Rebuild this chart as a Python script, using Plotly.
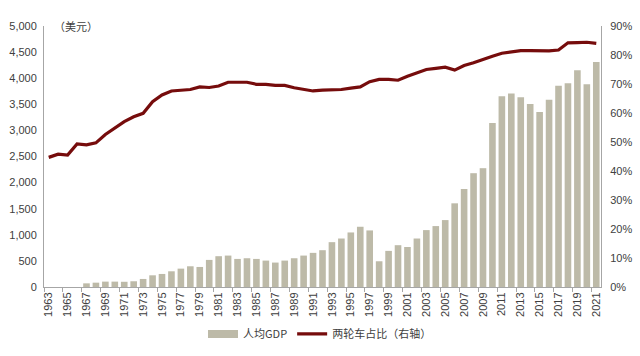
import plotly.graph_objects as go

years = list(range(1963, 2022))
gdp = [0, 0, 0, 0, 70, 83, 103, 103, 100, 110, 154, 224, 250, 301, 352, 397, 384, 519, 590,
       602, 538, 551, 538, 506, 468, 506, 551, 602, 654, 705, 859, 929, 1045, 1154, 1084, 493,
       692, 801, 766, 929, 1090, 1167, 1282, 1603, 1878, 2180, 2276, 3141, 3654, 3705, 3635,
       3508, 3354, 3585, 3854, 3904, 4154, 3885, 4308]
share = [44.7, 45.8, 45.5, 49.3, 49.0, 49.7, 52.6, 54.7, 57.0, 58.7, 59.9, 63.9, 66.2, 67.6,
         67.9, 68.1, 69.0, 68.8, 69.3, 70.6, 70.6, 70.6, 69.9, 69.9, 69.5, 69.5, 68.7, 68.1,
         67.6, 67.9, 68.1, 68.1, 68.6, 69.0, 70.8, 71.6, 71.6, 71.3, 72.7, 73.9, 75.0, 75.4,
         75.8, 74.8, 76.4, 77.3, 78.5, 79.6, 80.6, 81.1, 81.5, 81.5, 81.5, 81.4, 81.7, 84.2,
         84.3, 84.4, 84.0]
left_ticks = [0, 500, 1000, 1500, 2000, 2500, 3000, 3500, 4000, 4500, 5000]
right_ticks = [0, 10, 20, 30, 40, 50, 60, 70, 80, 90]
label_years = years[::2]

font_main = "Liberation Sans, Arial, Noto Sans CJK SC, sans-serif"
font_cjk = "Noto Sans CJK SC, Liberation Sans, sans-serif"
txt = "#404040"
bar_color = "#BDBAA8"
line_color = "#760C0C"

fig = go.Figure()
fig.add_trace(go.Bar(x=years, y=gdp, name="人均GDP", marker_color=bar_color,
                     marker_line_width=0, showlegend=False))
# legend-only entry so the swatch looks like a wide bar as in the reference
fig.add_trace(go.Scatter(x=[None], y=[None], name="人均GDP", mode="lines",
                         line=dict(color=bar_color, width=8)))
fig.add_trace(go.Scatter(x=years, y=share, name="两轮车占比（右轴）", yaxis="y2",
                         mode="lines", line=dict(color=line_color, width=3.2)))

fig.update_layout(
    width=640, height=356,
    margin=dict(l=44, r=39, t=26, b=69),
    paper_bgcolor="white", plot_bgcolor="white",
    bargap=0.3,
    showlegend=True,
    legend=dict(orientation="h", x=0.5, xanchor="center", xref="container",
                y=0.062, yanchor="middle", yref="container",
                font=dict(family=font_cjk, size=11, color=txt), itemwidth=30,
                tracegroupgap=0),
    xaxis=dict(range=[1962.5, 2021.5], tickmode="array", tickvals=label_years,
               ticktext=[str(y) for y in label_years], tickangle=-90,
               ticks="", showline=True, linecolor="#A6A6A6", linewidth=1,
               showgrid=False, zeroline=False, automargin=False,
               tickfont=dict(family=font_main, size=11, color=txt),
               minor=dict(ticks="outside", tick0=1962.5, dtick=2, ticklen=4,
                          tickcolor="#A6A6A6", showgrid=False)),
    yaxis=dict(range=[0, 5000], tickvals=left_ticks,
               ticktext=[f"{v:,}" for v in left_ticks], automargin=False,
               showline=True, linecolor="#A6A6A6", linewidth=1, showgrid=False,
               zeroline=False, ticks="", ticklabelstandoff=4,
               tickfont=dict(family=font_main, size=11, color=txt)),
    yaxis2=dict(range=[0, 90], overlaying="y", side="right", tickvals=right_ticks,
                ticktext=[f"{v}%" for v in right_ticks], automargin=False,
                showline=True, linecolor="#A6A6A6", linewidth=1, showgrid=False,
                zeroline=False, ticks="", ticklabelstandoff=6,
                tickfont=dict(family=font_main, size=11, color=txt)),
    annotations=[dict(text="（美元）", xref="paper", yref="paper", x=0.015, y=1.0,
                      xanchor="left", yanchor="middle", showarrow=False,
                      font=dict(family=font_cjk, size=11, color=txt))],
)

fig.write_html("out.html", config={"displayModeBar": False},
               post_script="document.body.style.margin='0';document.body.style.padding='0';")
